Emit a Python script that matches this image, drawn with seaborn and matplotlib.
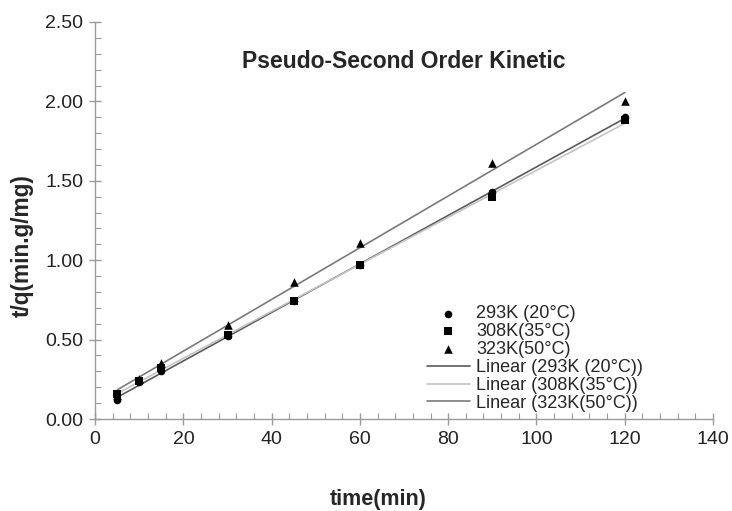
import numpy as np
import pandas as pd
import matplotlib
matplotlib.use("Agg")
import matplotlib.pyplot as plt
import seaborn as sns
from matplotlib.ticker import MultipleLocator, FormatStrFormatter

# data
time_min = [5, 10, 15, 30, 45, 60, 90, 120]
tq_293 = [0.12, 0.23, 0.30, 0.52, 0.74, 0.97, 1.43, 1.90]
tq_308 = [0.16, 0.24, 0.32, 0.53, 0.74, 0.97, 1.40, 1.88]
tq_323 = [0.15, 0.25, 0.35, 0.59, 0.86, 1.11, 1.61, 2.00]

series = ["293K (20°C)", "308K(35°C)", "323K(50°C)"]
markers = ["o", "s", "^"]
marker_sizes = [30, 34, 38]
line_colors = ["#5a5a5a", "#c4c4c4", "#7a7a7a"]

df = pd.DataFrame({
    "time": time_min * 3,
    "tq": tq_293 + tq_308 + tq_323,
    "series": np.repeat(series, len(time_min)),
})

sns.set_style("white")
plt.rcParams["font.family"] = ["Liberation Sans", "DejaVu Sans"]

fig = plt.figure(figsize=(7.32, 5.11), dpi=100)
ax = fig.add_axes([0.13, 0.18, 0.844, 0.777])

# scatter points
for name, m, s in zip(series, markers, marker_sizes):
    sub = df[df["series"] == name]
    sns.scatterplot(data=sub, x="time", y="tq", marker=m, s=s, color="black",
                    edgecolor="black", linewidth=0, label=name, ax=ax, zorder=3)

# linear fits (least squares on each series)
for name, c in zip(series, line_colors):
    sub = df[df["series"] == name]
    slope, icpt = np.polyfit(sub["time"], sub["tq"], 1)
    fit = pd.DataFrame({"time": [sub["time"].min(), sub["time"].max()]})
    fit["tq"] = slope * fit["time"] + icpt
    sns.lineplot(data=fit, x="time", y="tq", color=c, lw=1.2,
                 label=f"Linear ({name})", ax=ax)

ax.set_xlim(0, 140)
ax.set_ylim(0, 2.5)
ax.xaxis.set_major_locator(MultipleLocator(20))
ax.xaxis.set_minor_locator(MultipleLocator(4))
ax.yaxis.set_major_locator(MultipleLocator(0.5))
ax.yaxis.set_minor_locator(MultipleLocator(0.1))
ax.yaxis.set_major_formatter(FormatStrFormatter("%.2f"))

for side in ["top", "right"]:
    ax.spines[side].set_visible(False)
for side in ["left", "bottom"]:
    ax.spines[side].set_color("#9a9a9a")
    ax.spines[side].set_linewidth(1.0)

ax.tick_params(which="major", direction="inout", length=9, width=1, color="#9a9a9a",
               labelsize=14, labelcolor="#222222", pad=4)
ax.tick_params(which="minor", direction="in", length=4, width=0.8, color="#9a9a9a")
ax.tick_params(axis="x", which="both", bottom=True)
ax.tick_params(axis="y", which="both", left=True)

ax.set_xlabel("time(min)", fontsize=15.5, fontweight="bold")
ax.set_ylabel("t/q(min.g/mg)", fontsize=16.3, fontweight="bold")
ax.xaxis.set_label_coords(0.458, -0.175)
ax.yaxis.set_label_coords(-0.100, 0.438)
ax.text(0.5, 0.90, "Pseudo-Second Order Kinetic", transform=ax.transAxes,
        ha="center", va="center", fontsize=16.5, fontweight="bold")

ax.legend(loc="lower left", bbox_to_anchor=(0.525, 0.0), frameon=False,
          fontsize=13, handlelength=2.4, handletextpad=0.35, labelspacing=0.05,
          borderaxespad=0.2, borderpad=0.2)

fig.savefig("out.png", dpi=100)
